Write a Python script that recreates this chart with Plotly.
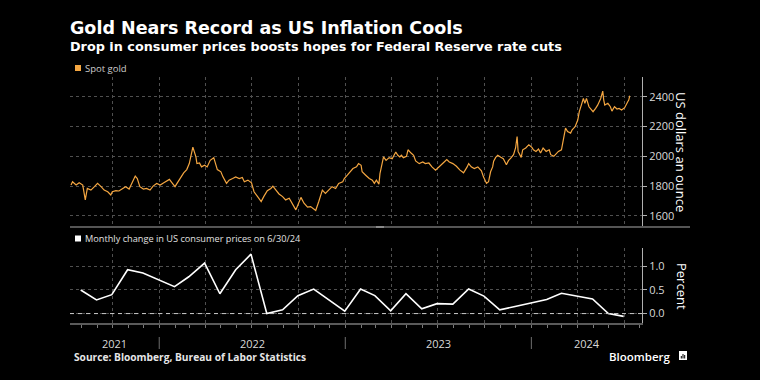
import plotly.graph_objects as go
import pandas as pd

# ---------------- data ----------------
gold_dates = [
    "2021-07-12", "2021-07-15", "2021-07-22", "2021-07-28", "2021-08-04", "2021-08-09", "2021-08-13",
    "2021-08-20", "2021-08-27", "2021-09-02", "2021-09-09", "2021-09-15", "2021-09-22", "2021-09-28",
    "2021-10-01", "2021-10-08", "2021-10-14", "2021-10-21", "2021-10-27", "2021-11-03", "2021-11-09",
    "2021-11-15", "2021-11-19", "2021-11-24", "2021-12-01", "2021-12-07", "2021-12-14", "2021-12-20",
    "2021-12-27", "2022-01-03", "2022-01-10", "2022-01-14", "2022-01-21", "2022-01-27", "2022-02-01",
    "2022-02-04", "2022-02-11", "2022-02-18", "2022-02-24", "2022-03-01", "2022-03-08", "2022-03-14",
    "2022-03-16", "2022-03-21", "2022-03-25", "2022-03-31", "2022-04-05", "2022-04-11", "2022-04-18",
    "2022-04-21", "2022-04-25", "2022-05-02", "2022-05-06", "2022-05-13", "2022-05-18", "2022-05-25",
    "2022-05-31", "2022-06-07", "2022-06-13", "2022-06-17", "2022-06-24", "2022-07-01", "2022-07-06",
    "2022-07-13", "2022-07-20", "2022-07-25", "2022-08-01", "2022-08-08", "2022-08-12", "2022-08-18",
    "2022-08-24", "2022-08-31", "2022-09-06", "2022-09-13", "2022-09-19", "2022-09-26", "2022-09-30",
    "2022-10-06", "2022-10-12", "2022-10-19", "2022-10-25", "2022-11-01", "2022-11-04", "2022-11-10",
    "2022-11-17", "2022-11-23", "2022-11-30", "2022-12-06", "2022-12-13", "2022-12-19", "2022-12-27",
    "2022-12-30", "2023-01-05", "2023-01-11", "2023-01-16", "2023-01-23", "2023-01-27", "2023-02-01",
    "2023-02-03", "2023-02-10", "2023-02-17", "2023-02-23", "2023-02-27", "2023-03-03", "2023-03-08",
    "2023-03-10", "2023-03-13", "2023-03-17", "2023-03-22", "2023-03-28", "2023-04-03", "2023-04-10",
    "2023-04-14", "2023-04-18", "2023-04-21", "2023-04-25", "2023-05-01", "2023-05-04", "2023-05-10",
    "2023-05-15", "2023-05-19", "2023-05-26", "2023-06-02", "2023-06-07", "2023-06-14", "2023-06-20",
    "2023-06-27", "2023-07-03", "2023-07-07", "2023-07-14", "2023-07-19", "2023-07-24", "2023-07-31",
    "2023-08-07", "2023-08-14", "2023-08-21", "2023-08-28", "2023-08-31", "2023-09-05", "2023-09-11",
    "2023-09-18", "2023-09-25", "2023-09-29", "2023-10-05", "2023-10-09", "2023-10-13", "2023-10-17",
    "2023-10-19", "2023-10-23", "2023-10-27", "2023-11-02", "2023-11-07", "2023-11-13", "2023-11-17",
    "2023-11-22", "2023-11-27", "2023-12-01", "2023-12-04", "2023-12-06", "2023-12-12", "2023-12-15",
    "2023-12-21", "2023-12-27", "2024-01-02", "2024-01-05", "2024-01-10", "2024-01-15", "2024-01-19",
    "2024-01-24", "2024-01-30", "2024-02-05", "2024-02-08", "2024-02-14", "2024-02-20", "2024-02-23",
    "2024-02-29", "2024-03-04", "2024-03-08", "2024-03-12", "2024-03-18", "2024-03-21", "2024-03-27",
    "2024-04-01", "2024-04-04", "2024-04-08", "2024-04-12", "2024-04-15", "2024-04-18", "2024-04-23",
    "2024-05-01", "2024-05-06", "2024-05-10", "2024-05-16", "2024-05-20", "2024-05-22", "2024-05-24",
    "2024-05-30", "2024-06-04", "2024-06-07", "2024-06-12", "2024-06-17", "2024-06-21", "2024-06-26",
    "2024-07-02", "2024-07-08", "2024-07-10", "2024-07-12",
]
gold_values = [
    1807, 1829, 1807, 1822, 1807, 1707, 1784,
    1773, 1796, 1818, 1796, 1773, 1762, 1740,
    1762, 1769, 1767, 1784, 1796, 1780, 1829,
    1867, 1851, 1796, 1780, 1784, 1773, 1800,
    1818, 1807, 1822, 1829, 1845, 1818, 1796,
    1813, 1851, 1889, 1911, 1951, 2062, 1996,
    1951, 1955, 1929, 1940, 1929, 1973, 1991,
    1962, 1911, 1896, 1862, 1818, 1840, 1851,
    1862, 1851, 1858, 1829, 1840, 1822, 1762,
    1729, 1696, 1729, 1769, 1784, 1800, 1773,
    1747, 1729, 1707, 1718, 1685, 1640, 1673,
    1724, 1685, 1658, 1662, 1640, 1636, 1696,
    1773, 1751, 1773, 1796, 1784, 1818, 1829,
    1851, 1873, 1900, 1918, 1929, 1951, 1940,
    1896, 1873, 1851, 1840, 1818, 1840, 1813,
    1884, 1929, 1996, 1973, 1991, 1984, 2029,
    2007, 1996, 2007, 1991, 2000, 2044, 2022,
    2007, 1969, 1951, 1962, 1951, 1955, 1929,
    1907, 1929, 1940, 1962, 1978, 1962, 1951,
    1933, 1907, 1889, 1929, 1951, 1929, 1918,
    1929, 1902, 1862, 1818, 1829, 1896, 1929,
    1967, 1993, 2007, 1993, 1984, 1944, 1971,
    1989, 2011, 2056, 2133, 2033, 1993, 2044,
    2056, 2078, 2060, 2044, 2033, 2049, 2022,
    2056, 2033, 2044, 2011, 2000, 2022, 2033,
    2044, 2122, 2189, 2167, 2156, 2178, 2200,
    2244, 2300, 2344, 2389, 2356, 2389, 2333,
    2300, 2322, 2344, 2389, 2438, 2378, 2344,
    2356, 2333, 2304, 2333, 2318, 2322, 2311,
    2327, 2367, 2378, 2407,
]

cpi_dates = [
    "2021-07-31", "2021-08-31", "2021-09-30", "2021-10-31", "2021-11-30", "2021-12-31",
    "2022-01-31", "2022-02-28", "2022-03-31", "2022-04-30", "2022-05-31", "2022-06-30",
    "2022-07-31", "2022-08-31", "2022-09-30", "2022-10-31", "2022-11-30", "2022-12-31",
    "2023-01-31", "2023-02-28", "2023-03-31", "2023-04-30", "2023-05-31", "2023-06-30",
    "2023-07-31", "2023-08-31", "2023-09-30", "2023-10-31", "2023-11-30", "2023-12-31",
    "2024-01-31", "2024-02-29", "2024-03-31", "2024-04-30", "2024-05-31", "2024-06-30",
]
cpi_values = [
    0.50, 0.29, 0.40, 0.93, 0.86, 0.72,
    0.57, 0.78, 1.07, 0.42, 0.93, 1.26,
    0.00, 0.08, 0.38, 0.52, 0.28, 0.05,
    0.52, 0.38, 0.06, 0.42, 0.10, 0.21,
    0.20, 0.52, 0.37, 0.08, 0.15, 0.23,
    0.30, 0.43, 0.37, 0.31, 0.00, -0.06,
]

year_labels = ["2021", "2022", "2023", "2024"]
gold_ticks = [1600, 1800, 2000, 2200, 2400]
cpi_ticks = [0.0, 0.5, 1.0]
cpi_tick_text = ["0.0", "0.5", "1.0"]

title = "Gold Nears Record as US Inflation Cools"
subtitle = "Drop in consumer prices boosts hopes for Federal Reserve rate cuts"
gold_name = "Spot gold"
cpi_name = "Monthly change in US consumer prices on 6/30/24"
gold_unit = "US dollars an ounce"
cpi_unit = "Percent"
source = "Source: Bloomberg, Bureau of Labor Statistics"

# ---------------- layout geometry ----------------
W, H = 760, 380
PL, PR = 70, 642          # plot left / right (px)
PT, PB = 77, 323          # plot top / bottom (px)
SEP_Y = 227               # bottom of gold panel
CPI_TOP = 248             # top of CPI panel
X_RANGE = ["2021-07-10", "2024-08-05"]

GOLD = "#f4a641"
GRID = "#505050"
AXIS = "#b0b0b0"
TXT = "#d9d9d9"
FONT = "Open Sans"
HEAD = "DejaVu Sans"


def px(X):
    return (X - PL) / (PR - PL)


def py(Y):
    return (PB - Y) / (PB - PT)


quarters = pd.date_range("2021-10-01", "2024-07-01", freq="QS")
x0 = pd.Timestamp(X_RANGE[0])
x1 = pd.Timestamp(X_RANGE[1])

fig = go.Figure()
fig.add_trace(go.Scatter(x=gold_dates, y=gold_values, mode="lines", name=gold_name,
                         line=dict(color=GOLD, width=1.2), xaxis="x", yaxis="y",
                         showlegend=False, hoverinfo="skip"))
fig.add_trace(go.Scatter(x=cpi_dates, y=cpi_values, mode="lines", name=cpi_name,
                         line=dict(color="#ffffff", width=1.6), xaxis="x2", yaxis="y2",
                         showlegend=False, hoverinfo="skip"))

common_x = dict(type="date", range=X_RANGE, tickvals=list(quarters), showticklabels=False,
                ticks="", showgrid=True, gridcolor=GRID, griddash="dot", gridwidth=1,
                zeroline=False, fixedrange=True)

fig.update_layout(
    width=W, height=H,
    paper_bgcolor="#000000", plot_bgcolor="#000000",
    margin=dict(l=PL, r=W - PR, t=PT, b=H - PB, pad=0),
    font=dict(family=FONT, color=TXT),
    xaxis=dict(domain=[0, 1], anchor="y", showline=False, **common_x),
    xaxis2=dict(domain=[0, 1], anchor="y2", matches="x", showline=True, linecolor="#5a5a5a",
                linewidth=2,
                minor=dict(ticks="outside", ticklen=3, tickcolor="#7a7a7a", tickwidth=1,
                           dtick="M1", tick0="2021-08-01", showgrid=False),
                **common_x),
    yaxis=dict(domain=[py(SEP_Y), 1], anchor="x", side="right", range=[1525, 2533],
               tickvals=gold_ticks, ticks="outside", ticklen=4, tickcolor=AXIS,
               showline=True, linecolor=AXIS, linewidth=1,
               tickfont=dict(size=11, color=TXT, family=FONT),
               showgrid=True, gridcolor=GRID, griddash="dot", zeroline=False, fixedrange=True),
    yaxis2=dict(domain=[0, py(CPI_TOP)], anchor="x2", side="right", range=[-0.2, 1.39],
                tickvals=cpi_ticks, ticktext=cpi_tick_text, ticks="outside", ticklen=4,
                tickcolor=AXIS, showline=True, linecolor=AXIS, linewidth=1,
                tickfont=dict(size=11, color=TXT, family=FONT),
                showgrid=True, gridcolor=GRID, griddash="dot", zeroline=False, fixedrange=True),
)

shapes = []
annotations = []

# dashed zero line in CPI panel
shapes.append(dict(type="line", xref="x2 domain", yref="y2", x0=0, x1=1, y0=0, y1=0,
                   line=dict(color="#c8c8c8", width=1, dash="4px,4px"), layer="above"))
# panel separator line + handle
shapes.append(dict(type="line", xref="paper", yref="paper", x0=0, x1=px(690),
                   y0=py(SEP_Y), y1=py(SEP_Y), line=dict(color="#555555", width=2)))
shapes.append(dict(type="line", xref="paper", yref="paper", x0=px(376), x1=px(384),
                   y0=py(SEP_Y), y1=py(SEP_Y), line=dict(color="#8a8a8a", width=2)))

# year separators and labels
for i, yl in enumerate(year_labels):
    ys = pd.Timestamp(f"{yl}-01-01")
    ye = pd.Timestamp(f"{int(yl) + 1}-01-01")
    a = max(ys, x0)
    b = min(ye, x1)
    mid = a + (b - a) / 2
    annotations.append(dict(text=yl, x=mid, y=py(343), xref="x2", yref="paper",
                            showarrow=False, xanchor="center", yanchor="middle",
                            font=dict(size=11, color=TXT, family=FONT)))
    if i > 0:
        shapes.append(dict(type="line", xref="x2", yref="paper", x0=ys, x1=ys,
                           y0=py(349), y1=py(337), line=dict(color="#6e6e6e", width=1)))

# legends
shapes.append(dict(type="rect", xref="paper", yref="paper", x0=px(75), x1=px(81),
                   y0=py(71), y1=py(65), fillcolor=GOLD, line=dict(width=0)))
annotations.append(dict(text=gold_name, x=px(82.5), y=py(68), xref="paper", yref="paper",
                        showarrow=False, xanchor="left", yanchor="middle",
                        font=dict(size=9.5, color="#cccccc", family=FONT)))
shapes.append(dict(type="rect", xref="paper", yref="paper", x0=px(75), x1=px(81),
                   y0=py(241.5), y1=py(235.5), fillcolor="#ffffff", line=dict(width=0)))
annotations.append(dict(text=cpi_name, x=px(82.5), y=py(238.5), xref="paper", yref="paper",
                        showarrow=False, xanchor="left", yanchor="middle",
                        font=dict(size=9.2, color="#e0e0e0", family=FONT)))

# axis titles
annotations.append(dict(text=gold_unit, x=px(681), y=py(152), xref="paper", yref="paper",
                        showarrow=False, textangle=90, xanchor="center", yanchor="middle",
                        font=dict(size=13, color="#ffffff", family=FONT)))
annotations.append(dict(text=cpi_unit, x=px(682), y=py(286), xref="paper", yref="paper",
                        showarrow=False, textangle=90, xanchor="center", yanchor="middle",
                        font=dict(size=13, color="#ffffff", family=FONT)))

# title, subtitle, source
annotations.append(dict(text=f"<b>{title}</b>", x=px(69), y=py(28.5), xref="paper",
                        yref="paper", showarrow=False, xanchor="left", yanchor="middle",
                        borderpad=0, font=dict(size=17.5, color="#ffffff", family=HEAD)))
annotations.append(dict(text=f"<b>{subtitle}</b>", x=px(69), y=py(47), xref="paper",
                        yref="paper", showarrow=False, xanchor="left", yanchor="middle",
                        borderpad=0, font=dict(size=12.8, color="#ffffff", family=HEAD)))
annotations.append(dict(text=f"<b>{source}</b>", x=px(71.5), y=py(357), xref="paper",
                        yref="paper", showarrow=False, xanchor="left", yanchor="middle",
                        font=dict(size=10.2, color="#e6e6e6", family=FONT)))
annotations.append(dict(text="Bloomberg", x=px(673), y=py(356.5), xref="paper",
                        yref="paper", showarrow=False, xanchor="right", yanchor="middle",
                        font=dict(size=11.5, color="#ffffff", family=FONT, weight=600)))
# Bloomberg icon
shapes.append(dict(type="rect", xref="paper", yref="paper", x0=px(679), x1=px(687),
                   y0=py(360), y1=py(351), fillcolor="#ffffff", line=dict(width=0)))
for bx, top in [(681.3, 356), (683, 354), (684.7, 355)]:
    shapes.append(dict(type="line", xref="paper", yref="paper", x0=px(bx), x1=px(bx),
                       y0=py(358.5), y1=py(top), line=dict(color="#000000", width=1)))

fig.update_layout(shapes=shapes, annotations=annotations)
fig.write_html("out.html", config={"displayModeBar": False, "staticPlot": True},
               post_script="document.body.style.margin='0';document.body.style.background='#000';")
